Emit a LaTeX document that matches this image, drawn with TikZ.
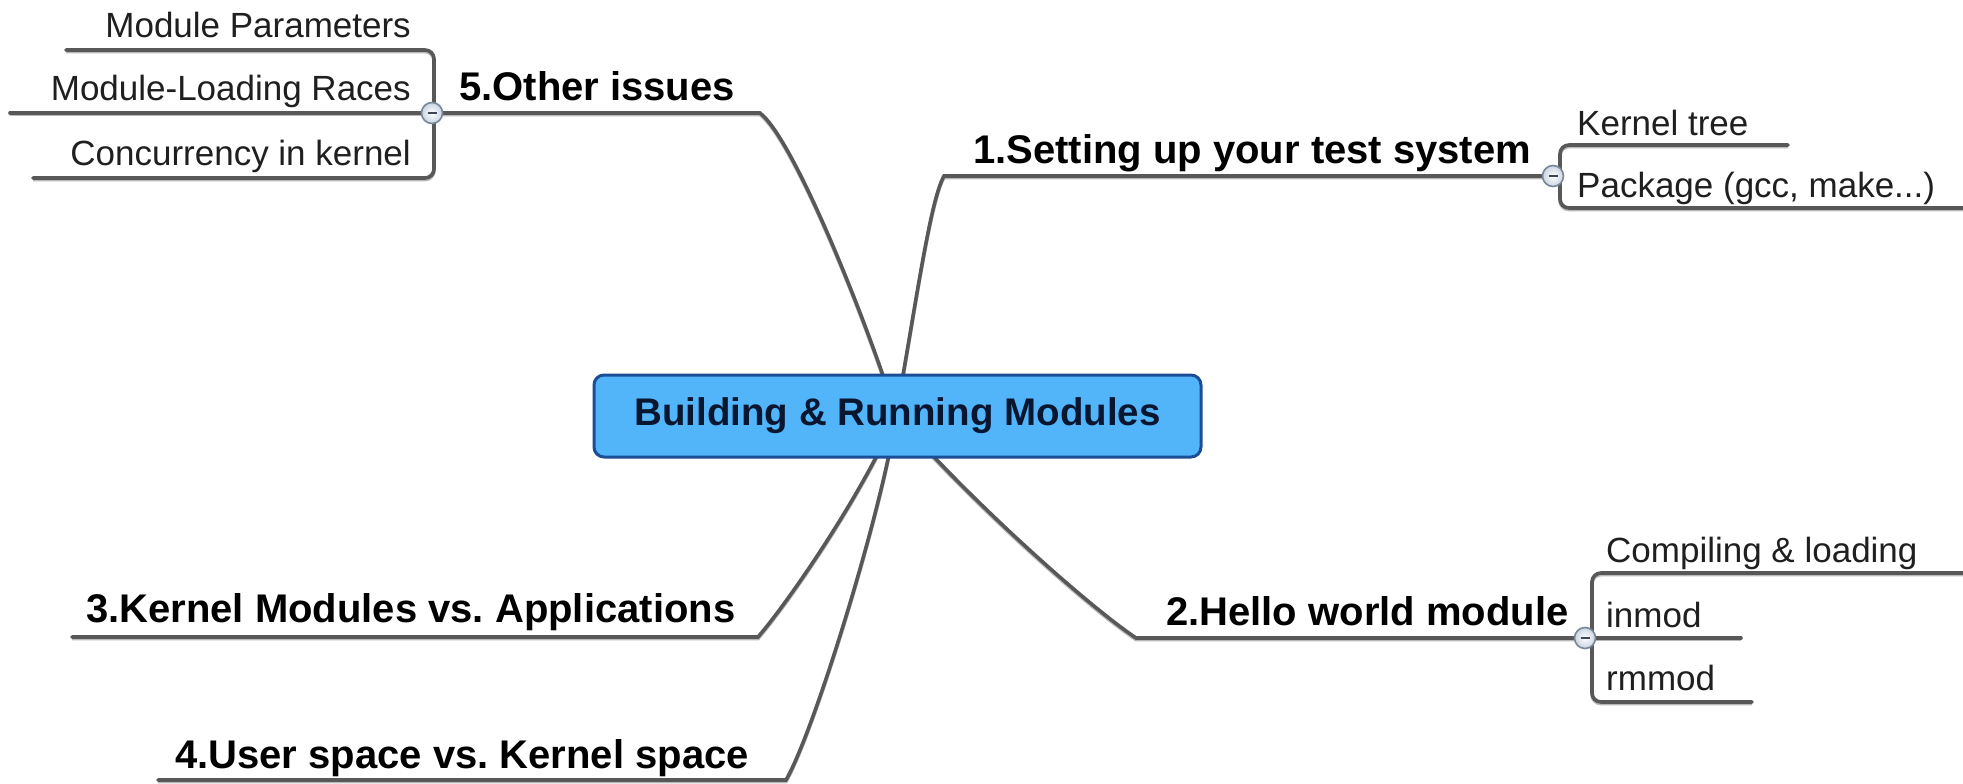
\documentclass[tikz,border=0pt]{standalone}
\usepackage{fontspec}
\setmainfont{Liberation Sans}
\frenchspacing
\definecolor{linegray}{RGB}{88,88,88}
\definecolor{shadowgray}{RGB}{185,185,185}
\definecolor{boxfill}{RGB}{82,181,250}
\definecolor{boxdraw}{RGB}{28,78,150}
\definecolor{boxtext}{RGB}{8,22,48}
\definecolor{knobfill}{RGB}{200,212,226}
\definecolor{knobdraw}{RGB}{120,136,152}
\definecolor{minusgray}{RGB}{60,70,85}
\begin{document}
\begin{tikzpicture}[x=1pt,y=-1pt,
  conn/.style={draw=linegray,line width=3.6pt,line cap=round,
    preaction={draw=shadowgray,line width=3.6pt,transform canvas={yshift=-1.6pt}}},
  bracket/.style={conn,rounded corners=9pt},
  maintext/.style={inner sep=0pt,font=\fontsize{40}{48}\selectfont\bfseries,text=black},
  subtext/.style={inner sep=0pt,font=\fontsize{35}{41}\selectfont,text=black!88},
  knob/.style={circle,draw=knobdraw,line width=1.6pt,inner color=white,outer color=knobfill,
    minimum size=21pt,inner sep=0pt,text=minusgray},
  rootbox/.style={rectangle,rounded corners=10pt,fill=boxfill,draw=boxdraw,line width=3pt,
    minimum width=607pt,minimum height=82pt,text=boxtext,
    font=\fontsize{38.5}{46}\selectfont\bfseries}]
\useasboundingbox (0,0) rectangle (1963,784);
\fill[white] (0,0) rectangle (1963,784);

% hub and anchor coordinates
\coordinate (hub) at (896,415);
\coordinate (b5end) at (760,113);
\coordinate (k5c) at (432,113);
\coordinate (b1end) at (944,176);
\coordinate (k1c) at (1553,176);
\coordinate (b2end) at (1136,638);
\coordinate (k2c) at (1585,638);
\coordinate (b3end) at (758,637);
\coordinate (b3start) at (72,637);
\coordinate (b4end) at (786,780);
\coordinate (b4start) at (158,780);

% sub-branch line ends
\coordinate (mp0) at (66,50);
\coordinate (mr0) at (10,113);
\coordinate (ck0) at (33,178);
\coordinate (kt0) at (1788,145);
\coordinate (pk0) at (1975,208);
\coordinate (cl0) at (1975,573);
\coordinate (in0) at (1741,638);
\coordinate (rm0) at (1752,702);

% main branches
\draw[conn] (hub) .. controls (870,330) and (795,140) .. (b5end) -- (k5c);
\draw[conn] (hub) .. controls (915,310) and (930,200) .. (b1end) -- (k1c);
\draw[conn] (hub) .. controls (960,490) and (1080,600) .. (b2end) -- (k2c);
\draw[conn] (hub) .. controls (865,490) and (790,600) .. (b3end) -- (b3start);
\draw[conn] (hub) .. controls (885,500) and (815,730) .. (b4end) -- (b4start);

% sub-branch brackets
\draw[bracket] (mp0) -- (434,50) -- (434,178) -- (ck0);
\draw[conn] (k5c) -- (mr0);
\draw[bracket] (kt0) -- (1560,145) -- (1560,208) -- (pk0);
\draw[bracket] (cl0) -- (1592,573) -- (1592,702) -- (rm0);
\draw[conn] (k2c) -- (in0);

% knobs
\node[knob] (k5) at (k5c) {\rule{9pt}{2pt}};
\node[knob] (k1) at (k1c) {\rule{9pt}{2pt}};
\node[knob] (k2) at (k2c) {\rule{9pt}{2pt}};

% root
\node[rootbox] (root) at (897.5,416) {Building \& Running Modules};

% main labels
\node[maintext,anchor=base west] (t1) at (973,163) {1.Setting up your test system};
\node[maintext,anchor=base west] (t2) at (1166,625) {2.Hello world module};
\node[maintext,anchor=base west] (t3) at (86,622) {3.Kernel Modules vs. Applications};
\node[maintext,anchor=base west] (t4) at (175,768) {4.User space vs. Kernel space};
\node[maintext,anchor=base west] (t5) at (459,100) {5.Other issues};

% sub labels
\node[subtext,anchor=base east] (s51) at (411,38) {Module Parameters};
\node[subtext,anchor=base east] (s52) at (411,100) {Module-Loading Races};
\node[subtext,anchor=base east] (s53) at (411,165) {Concurrency in kernel};
\node[subtext,anchor=base west] (s11) at (1577,135) {Kernel tree};
\node[subtext,anchor=base west] (s12) at (1577,197) {Package (gcc, make...)};
\node[subtext,anchor=base west] (s21) at (1606,562) {Compiling \& loading};
\node[subtext,anchor=base west] (s22) at (1606,627) {inmod};
\node[subtext,anchor=base west] (s23) at (1606,690) {rmmod};
\end{tikzpicture}
\end{document}
